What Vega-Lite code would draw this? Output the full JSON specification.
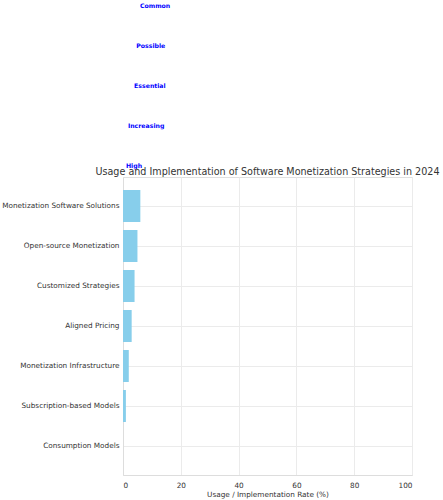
{
  "$schema": "https://vega.github.io/schema/vega-lite/v6.json",
  "width": 289,
  "height": 298,
  "autosize": "none",
  "padding": {"left": 123, "top": 177, "right": 31, "bottom": 25},
  "background": "white",
  "config": {
    "view": {"stroke": "#e0e0e0", "strokeWidth": 1},
    "font": "DejaVu Sans"
  },
  "title": {
    "text": "Usage and Implementation of Software Monetization Strategies in 2024",
    "fontSize": 9.6,
    "fontWeight": "normal",
    "color": "#333333",
    "font": "DejaVu Sans",
    "anchor": "middle",
    "frame": "group",
    "baseline": "alphabetic",
    "dy": 186
  },
  "layer": [
    {
      "data": {
        "values": [
          {"strategy": "Consumption Models", "rate": 0},
          {"strategy": "Subscription-based Models", "rate": 1},
          {"strategy": "Monetization Infrastructure", "rate": 2},
          {"strategy": "Aligned Pricing", "rate": 3},
          {"strategy": "Customized Strategies", "rate": 4},
          {"strategy": "Open-source Monetization", "rate": 5},
          {"strategy": "Monetization Software Solutions", "rate": 6}
        ]
      },
      "mark": {"type": "bar", "color": "#87CEEB"},
      "encoding": {
        "y": {
          "field": "strategy",
          "type": "nominal",
          "sort": null,
          "scale": {
            "domain": ["Monetization Software Solutions", "Open-source Monetization", "Customized Strategies", "Aligned Pricing", "Monetization Infrastructure", "Subscription-based Models", "Consumption Models"],
            "paddingInner": 0.2,
            "paddingOuter": 0.325
          },
          "axis": {
            "title": null,
            "grid": true,
            "gridColor": "#ebebeb",
            "ticks": false,
            "domain": true,
            "domainColor": "#dddddd",
            "labelFontSize": 7.3,
            "labelColor": "#333333",
            "labelPadding": 4
          }
        },
        "x": {
          "field": "rate",
          "type": "quantitative",
          "scale": {"domain": [0, 100], "nice": false},
          "axis": {
            "title": "Usage / Implementation Rate (%)",
            "titleFontSize": 7.3,
            "titleFontWeight": "normal",
            "titleColor": "#333333",
            "titlePadding": 2,
            "values": [0, 20, 40, 60, 80, 100],
            "grid": true,
            "gridColor": "#ebebeb",
            "ticks": false,
            "domainColor": "#dddddd",
            "labelFontSize": 7.3,
            "labelColor": "#333333",
            "labelPadding": 6
          }
        }
      }
    },
    {
      "data": {
        "values": [
          {"label": "High", "pos": 3.8, "idx": 7},
          {"label": "Increasing", "pos": 8.0, "idx": 8},
          {"label": "Essential", "pos": 9.3, "idx": 9},
          {"label": "Possible", "pos": 9.6, "idx": 10},
          {"label": "Common", "pos": 11.1, "idx": 11}
        ]
      },
      "mark": {"type": "text", "color": "blue", "fontWeight": "bold", "fontSize": 6.2, "align": "center", "baseline": "middle"},
      "encoding": {
        "text": {"field": "label"},
        "x": {"field": "pos", "type": "quantitative"},
        "y": {
          "field": "idx",
          "type": "quantitative",
          "scale": {"domain": [-0.725, 6.725], "nice": false, "zero": false},
          "axis": null
        }
      }
    }
  ],
  "resolve": {"scale": {"y": "independent"}, "axis": {"y": "independent"}}
}
